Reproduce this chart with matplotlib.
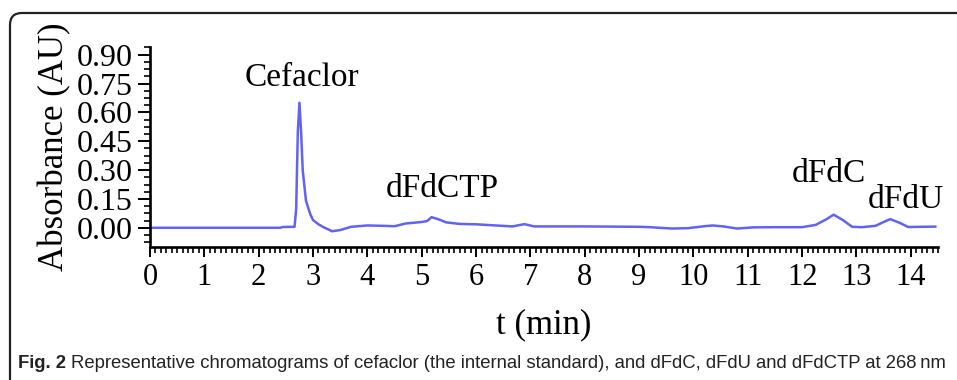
import matplotlib
matplotlib.use("Agg")
import matplotlib.pyplot as plt
from matplotlib.patches import FancyBboxPatch
from matplotlib.ticker import MultipleLocator, FixedLocator
from matplotlib.transforms import IdentityTransform

# ---- data ----
time_min = [0.0, 2.40, 2.44, 2.66, 2.69, 2.72, 2.75, 2.78, 2.81, 2.87, 2.95, 3.00,
            3.10, 3.20, 3.35, 3.50, 3.70, 4.00, 4.30, 4.50, 4.70, 5.00, 5.10, 5.18,
            5.30, 5.45, 5.70, 6.00, 6.30, 6.67, 6.89, 7.07, 7.50, 8.00, 8.50, 9.00,
            9.20, 9.60, 9.90, 10.20, 10.35, 10.55, 10.80, 11.10, 11.50, 12.00, 12.25,
            12.45, 12.58, 12.75, 12.92, 13.10, 13.35, 13.50, 13.62, 13.80, 13.95,
            14.20, 14.45]
absorbance = [0.000, 0.000, 0.004, 0.005, 0.100, 0.500, 0.650, 0.500, 0.300, 0.140,
              0.070, 0.040, 0.018, 0.002, -0.018, -0.012, 0.005, 0.012, 0.010, 0.008,
              0.022, 0.030, 0.035, 0.055, 0.045, 0.028, 0.020, 0.018, 0.013, 0.007,
              0.019, 0.007, 0.007, 0.007, 0.006, 0.005, 0.003, -0.004, -0.002, 0.008,
              0.012, 0.007, -0.004, 0.002, 0.003, 0.003, 0.015, 0.045, 0.068, 0.040,
              0.005, 0.003, 0.010, 0.030, 0.045, 0.025, 0.004, 0.005, 0.006]

peak_labels = ["Cefaclor", "dFdCTP", "dFdC", "dFdU"]
peak_label_t = [2.80, 5.38, 12.5, 13.9]
peak_label_a = [0.78, 0.205, 0.28, 0.145]

x_ticks = list(range(0, 15))
y_ticks = [0.00, 0.15, 0.30, 0.45, 0.60, 0.75, 0.90]
y_tick_labels = ["0.00", "0.15", "0.30", "0.45", "0.60", "0.75", "0.90"]

x_label = "t (min)"
y_label = "Absorbance (AU)"
caption_bold = "Fig. 2"
caption_rest = ("Representative chromatograms of cefaclor (the internal standard), "
                "and dFdC, dFdU and dFdCTP at 268\u2009nm")

# ---- figure ----
W, H, DPI = 957, 380, 100
fig = plt.figure(figsize=(W / DPI, H / DPI), dpi=DPI)
fig.patch.set_facecolor("white")
serif = ["Liberation Serif", "DejaVu Serif"]

ax = fig.add_axes([150 / W, 1 - 247 / H, (938 - 150) / W, (247 - 47) / H])
ax.plot(time_min, absorbance, color="#6262f4", lw=1.8, solid_joinstyle="round")
ax.set_xlim(0, 14.5)
ax.set_ylim(-0.1, 0.94)

for s in ("top", "right"):
    ax.spines[s].set_visible(False)
for s in ("left", "bottom"):
    ax.spines[s].set_linewidth(1.9)

ax.xaxis.set_major_locator(FixedLocator(x_ticks))
ax.xaxis.set_minor_locator(MultipleLocator(0.1))
ax.yaxis.set_major_locator(FixedLocator(y_ticks))
ax.yaxis.set_minor_locator(MultipleLocator(0.0375))
ax.set_yticklabels(y_tick_labels)

ax.tick_params(axis="x", which="major", direction="out", length=7.5, width=1.4,
               pad=4, labelsize=22)
ax.tick_params(axis="x", which="minor", direction="out", length=4.5, width=1.2)
ax.tick_params(axis="y", which="major", direction="out", length=8.5, width=1.4,
               pad=4, labelsize=23)
ax.tick_params(axis="y", which="minor", direction="out", length=4.5, width=1.2)
for lab in ax.get_xticklabels() + ax.get_yticklabels():
    lab.set_fontfamily(serif)

ax.set_xlabel(x_label, fontsize=25, family=serif, labelpad=12)
ax.set_ylabel(y_label, fontsize=25, family=serif)
ax.yaxis.set_label_coords(-0.1, 0.5)

for name, tx, ay in zip(peak_labels, peak_label_t, peak_label_a):
    ax.text(tx, ay, name, fontsize=24, family=serif, ha="center", va="center")

# ---- rounded frame ----
frame = FancyBboxPatch((10, -40), 1100, (H - 13) + 40,
                       boxstyle="round,pad=0,rounding_size=12",
                       transform=IdentityTransform(), fill=False,
                       edgecolor="#222222", lw=1.6, clip_on=False)
fig.add_artist(frame)

# ---- caption ----
cap_font = ["Liberation Sans Narrow", "Liberation Sans", "DejaVu Sans"]
fs = 13.5
renderer = fig.canvas.get_renderer()
t1 = fig.text(18 / W, 16 / H, caption_bold, fontsize=fs, fontweight="bold",
              family=cap_font, va="center", ha="left", color="#222222")
bb1 = t1.get_window_extent(renderer)
t2 = fig.text((bb1.x1 + 5) / W, 16 / H, caption_rest, fontsize=fs,
              family=cap_font, va="center", ha="left", color="#222222")
bb2 = t2.get_window_extent(renderer)
scale = (950 - 18) / (bb2.x1 - bb1.x0)
fs2 = fs * scale
t1.set_fontsize(fs2)
bb1 = t1.get_window_extent(renderer)
t2.set_fontsize(fs2)
t2.set_x((bb1.x1 + 5 * scale) / W)

fig.savefig("out.png", dpi=DPI)
